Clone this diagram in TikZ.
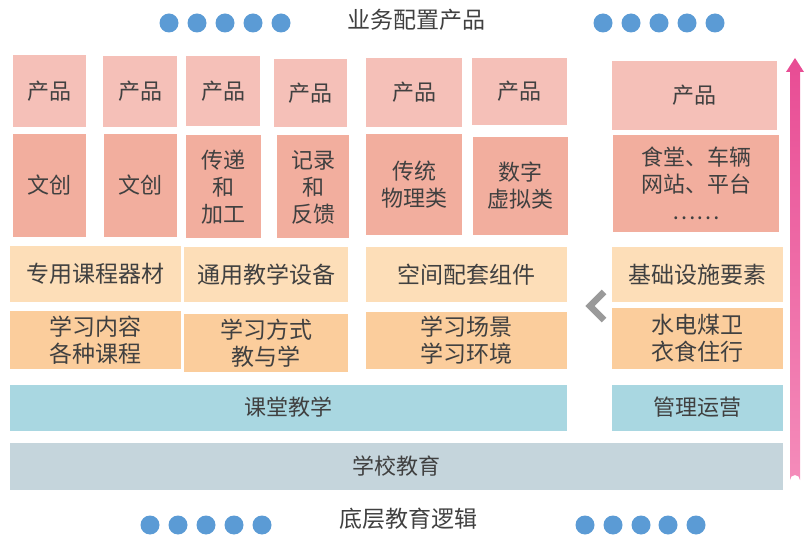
\documentclass[tikz,border=0pt]{standalone}
\usepackage{fontspec}
\newfontfamily\cjk{Noto Sans CJK SC}
\definecolor{cprod}{HTML}{F5C0B8}
\definecolor{ckind}{HTML}{F2AE9E}
\definecolor{cequip}{HTML}{FDDEB8}
\definecolor{clearn}{HTML}{FBCD9C}
\definecolor{cblue}{HTML}{A9D7E1}
\definecolor{cgray}{HTML}{C5D5DC}
\definecolor{cdot}{HTML}{5B9BD5}
\definecolor{txt}{HTML}{404040}
\definecolor{chev}{HTML}{9A9A9A}
\definecolor{arrtop}{HTML}{E84C94}
\definecolor{arrbot}{HTML}{F48CBA}
\begin{document}
\begin{tikzpicture}[x=1pt,y=-1pt,
  cell/.style={inner sep=0pt, outer sep=0pt, align=center, text=txt,
    font=\cjk\fontsize{22}{27}\selectfont},
  wh/.style 2 args={minimum width=#1pt, minimum height=#2pt},
  prod/.style={cell, fill=cprod},
  kind/.style={cell, fill=ckind},
  equip/.style={cell, fill=cequip, font=\cjk\fontsize{23}{27}\selectfont},
  learn/.style={cell, fill=clearn, font=\cjk\fontsize{23}{27}\selectfont},
  bluebar/.style={cell, fill=cblue},
  graybar/.style={cell, fill=cgray},
  heading/.style={text=txt, inner sep=0pt, font=\cjk\fontsize{23}{27}\selectfont},
  dot/.style={fill=cdot}
]
\useasboundingbox (0,0) rectangle (804,540);

% headings
\node[heading] (top) at (416,20) {业务配置产品};
\node[heading] (bottom) at (408,519) {底层教育逻辑};
\foreach \x in {169,197,225,253,281,603,631,659,687,715} \fill[dot] (\x,23) circle (9.5);
\foreach \x in {150,178,206,234,262,585,613,641,668,696} \fill[dot] (\x,525) circle (9.5);

% row 1: products
\node[prod, wh={73}{72}] (p1) at (49.5,91) {产品};
\node[prod, wh={74}{71}] (p2) at (140,91.5) {产品};
\node[prod, wh={74}{70}] (p3) at (223,91) {产品};
\node[prod, wh={73}{68}] (p4) at (310.5,93) {产品};
\node[prod, wh={96}{69}] (p5) at (414,92.5) {产品};
\node[prod, wh={95}{67}] (p6) at (519.5,91.5) {产品};
\node[prod, wh={165}{69}] (p7) at (694.5,95.5) {产品};

% row 2: kinds
\node[kind, wh={73}{103}] (q1) at (49.5,185.5) {文创};
\node[kind, wh={73}{103}] (q2) at (140.5,185.5) {文创};
\node[kind, wh={75}{103}] (q3) at (223.5,187) {传递\\和\\加工};
\node[kind, wh={72}{103}] (q4) at (313,187) {记录\\和\\反馈};
\node[kind, wh={96}{101}] (q5) at (414,184.5) {传统\\物理类};
\node[kind, wh={95}{98}] (q6) at (520.5,186) {数字\\虚拟类};
\node[kind, wh={166}{97}] (q7) at (696,183.5) {食堂、车辆\\网站、平台\\……};

% row 3: equipment
\node[equip, wh={171}{56}] (r1) at (95.5,274) {专用课程器材};
\node[equip, wh={164}{55}] (r2) at (266,274.5) {通用教学设备};
\node[equip, wh={201}{55}] (r3) at (466.5,274.5) {空间配套组件};
\node[equip, wh={171}{55}] (r4) at (697.5,274.5) {基础设施要素};

% row 4: learning
\node[learn, wh={171}{58}] (s1) at (95.5,340) {学习内容\\各种课程};
\node[learn, wh={164}{58}] (s2) at (266,343) {学习方式\\教与学};
\node[learn, wh={201}{57}] (s3) at (466.5,340.5) {学习场景\\学习环境};
\node[learn, wh={171}{61}] (s4) at (697.5,338.5) {水电煤卫\\衣食住行};

% row 5
\node[bluebar, wh={557}{46}] (t1) at (288.5,407.5) {课堂教学};
\node[bluebar, wh={171}{46}] (t2) at (697.5,407.5) {管理运营};

% row 6
\node[graybar, wh={773}{47}] (u) at (396.5,466.5) {学校教育};

% chevron
\coordinate (chtip) at (590,306);
\draw[chev, line width=6.5pt, miter limit=10] (604,292) -- (chtip) -- (604,320);

% rising arrow
\shade[top color=arrtop, bottom color=arrbot]
  (790,72) -- (786,72) -- (795,58) -- (804,72) -- (800,72) -- (800,480)
  arc[start angle=0, end angle=-180, radius=5] -- cycle;
\end{tikzpicture}
\end{document}
